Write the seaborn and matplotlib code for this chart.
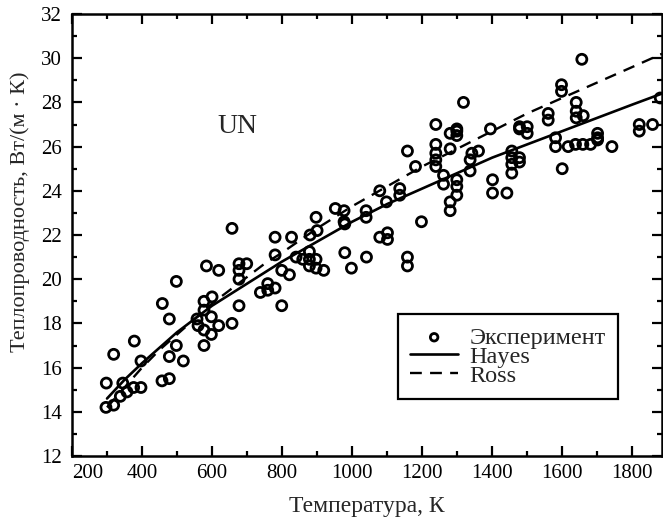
import numpy as np
import pandas as pd
import matplotlib
matplotlib.use("Agg")
import matplotlib.pyplot as plt
from matplotlib.ticker import MultipleLocator
import seaborn as sns

exp_T = [297, 319, 338, 357, 345, 376, 397, 298, 319, 378, 397, 457, 478, 478, 498, 518,
         458, 478, 498,
         584, 619, 577, 600, 577, 557, 560, 577, 598, 598, 619, 577,
         657, 657, 677, 677, 699, 677, 677,
         738, 759, 759, 780, 780, 780, 799, 799, 821, 827, 840,
         859, 878, 878, 897, 878, 897, 919, 880, 900, 979, 998, 979, 897, 952, 977, 977,
         1041, 1040, 1040, 1079, 1098, 1079, 1101, 1101, 1136, 1136, 1158, 1181, 1158, 1158, 1198,
         1239, 1239, 1239, 1239, 1239, 1261, 1261, 1280, 1280, 1299, 1299, 1299, 1299, 1299, 1299,
         1280, 1280, 1318,
         1342, 1361, 1337, 1337, 1395, 1401, 1401, 1442,
         1456, 1456, 1456, 1456, 1478, 1478, 1478, 1500, 1500, 1478,
         1560, 1560, 1581, 1581, 1598, 1598, 1600, 1617, 1638, 1659, 1681, 1640, 1640, 1640,
         1660, 1656, 1701, 1701, 1701, 1742,
         1820, 1820, 1858, 1880]
exp_k = [14.2, 14.3, 14.7, 14.9, 15.3, 15.1, 15.1, 15.3, 16.6, 17.2, 16.3, 15.4, 15.5, 16.5, 17.0, 16.3,
         18.9, 18.2, 19.9,
         20.6, 20.4, 19.0, 19.2, 18.6, 18.2, 17.9, 17.7, 18.3, 17.5, 17.9, 17.0,
         22.3, 18.0, 20.7, 20.0, 20.7, 18.8, 20.4,
         19.4, 19.8, 19.5, 19.6, 21.9, 21.1, 18.8, 20.4, 20.2, 21.9, 21.0,
         20.9, 21.25, 20.9, 20.9, 20.6, 20.5, 20.4, 22.0, 22.2, 21.2, 20.5, 22.5, 22.8, 23.2, 23.1, 22.6,
         21.0, 23.1, 22.8, 24.0, 23.5, 21.9, 22.1, 21.8, 24.1, 23.8, 25.8, 25.1, 21.0, 20.6, 22.6,
         27.0, 26.1, 25.7, 25.4, 25.1, 24.7, 24.3, 25.9, 26.6, 26.8, 26.7, 26.5, 24.5, 24.2, 23.8,
         23.5, 23.1, 28.0,
         25.7, 25.8, 25.4, 24.9, 26.8, 24.5, 23.9, 23.9,
         25.8, 25.5, 25.2, 24.8, 25.5, 25.3, 26.9, 26.9, 26.6, 26.8,
         27.5, 27.2, 26.4, 26.0, 28.8, 28.5, 25.0, 26.0, 26.1, 26.1, 26.1, 28.0, 27.6, 27.3,
         27.4, 29.95, 26.3, 26.6, 26.4, 26.0,
         27.0, 26.7, 27.0, 28.2]

# Model curves
curve_T = [300, 350, 400, 450, 500, 550, 600, 650, 700, 750, 800, 900, 1000, 1100, 1200,
           1300, 1400, 1500, 1600, 1700, 1800, 1885]
hayes_k = [14.6, 15.45, 16.2, 16.9, 17.6, 18.2, 18.8, 19.3, 19.8, 20.3, 20.8, 21.7, 22.6, 23.4, 24.1,
           24.8, 25.5, 26.1, 26.7, 27.3, 27.9, 28.4]
ross_k = [14.2, 15.1, 16.0, 16.8, 17.5, 18.2, 18.9, 19.5, 20.1, 20.7, 21.2, 22.3, 23.3, 24.2, 25.1,
          25.9, 26.7, 27.5, 28.2, 28.9, 29.6, 30.2]

x_ticks = [200, 400, 600, 800, 1000, 1200, 1400, 1600, 1800]
y_ticks = [12, 14, 16, 18, 20, 22, 24, 26, 28, 30, 32]

sns.set_style("ticks")
plt.rcParams['font.family'] = ['Liberation Serif', 'DejaVu Serif']

fig = plt.figure(figsize=(6.63, 5.27), dpi=100)
ax = fig.add_axes([72 / 663, 1 - 456 / 527, 1 - 72 / 663 - 0.0015, (456 - 14) / 527])

df_exp = pd.DataFrame({"T": exp_T, "k": exp_k})
df_curves = pd.DataFrame({"T": curve_T, "Hayes": hayes_k, "Ross": ross_k})

sns.lineplot(data=df_curves, x="T", y="Ross", ax=ax, color="black", lw=1.7,
             label="Ross", zorder=2)
ax.lines[-1].set_dashes((5, 3.5))
sns.lineplot(data=df_curves, x="T", y="Hayes", ax=ax, color="black", lw=1.9,
             label="Hayes", zorder=2)
sns.scatterplot(data=df_exp, x="T", y="k", ax=ax, marker="o", s=52,
                facecolors="none", edgecolor="black", linewidth=2.0,
                label="Эксперимент", zorder=3)

ax.set_xlim(200, 1885)
ax.set_ylim(12, 32)
ax.set_xticks(x_ticks)
ax.set_yticks(y_ticks)
ax.xaxis.set_minor_locator(MultipleLocator(100))
ax.yaxis.set_minor_locator(MultipleLocator(1))
ax.tick_params(which="both", direction="in", top=True, right=True, width=1.6,
               labelsize=15, colors="black")
ax.tick_params(axis="y", pad=7)
ax.tick_params(axis="x", pad=6)
ax.tick_params(which="major", length=7)
ax.tick_params(which="minor", length=3.5)
for s in ax.spines.values():
    s.set_linewidth(1.8)
    s.set_color("black")
first = ax.get_xticklabels()[0]
first.set_horizontalalignment("left")

ax.set_xlabel("Температура, К", fontsize=17, labelpad=9)
ax.set_ylabel("Теплопроводность, Вт/(м · К)", fontsize=16)
ax.yaxis.set_label_coords(-0.071, 0.552)

ax.text(672, 26.9, "UN", fontsize=20, ha="center", va="center")

handles, labels = ax.get_legend_handles_labels()
order = [labels.index("Эксперимент"), labels.index("Hayes"), labels.index("Ross")]
leg = ax.legend([handles[i] for i in order], [labels[i] for i in order],
                loc="lower left", bbox_to_anchor=(0.552, 0.129), fontsize=17.5,
                frameon=True, fancybox=False, edgecolor="black", framealpha=1,
                handlelength=2.0, handletextpad=0.45, borderpad=0.5, labelspacing=-0.12,
                borderaxespad=0, markerscale=0.75)
leg.get_frame().set_linewidth(1.6)

fig.savefig("out.png", dpi=100)
